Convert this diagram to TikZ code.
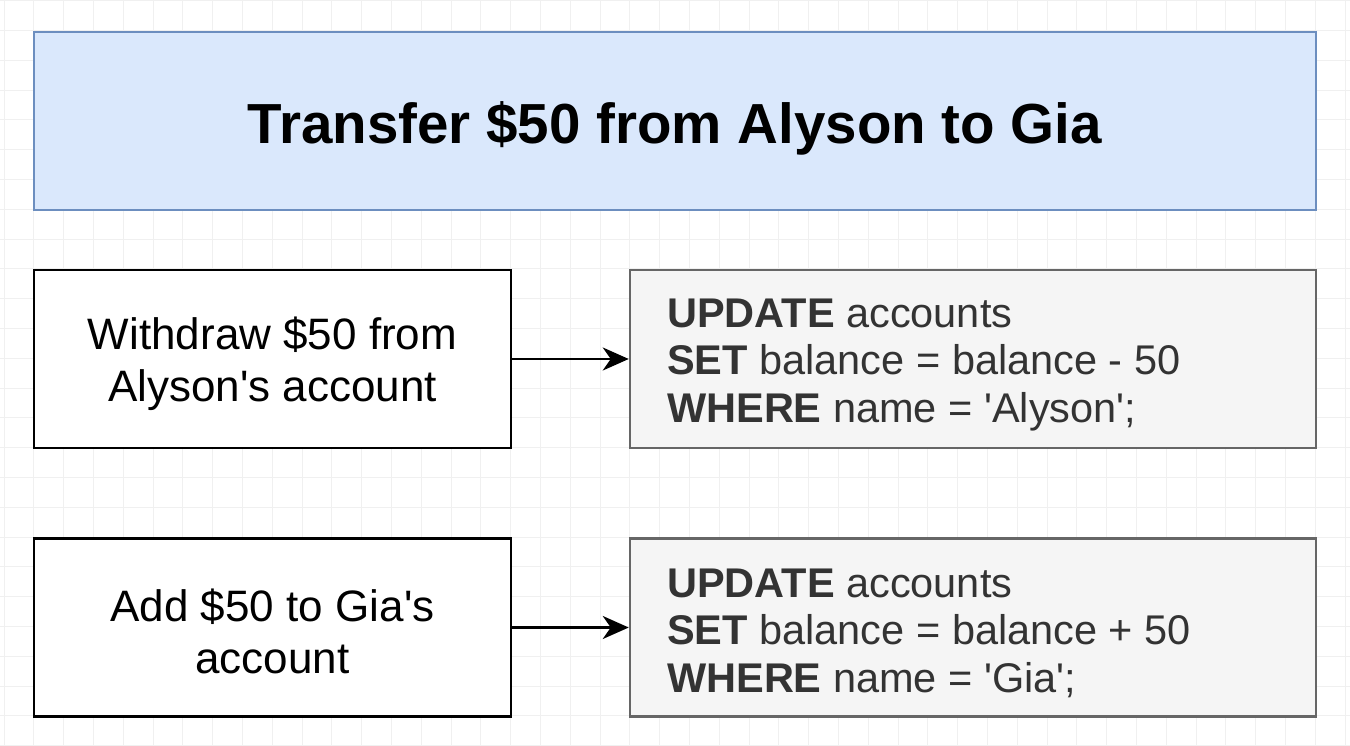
\documentclass[tikz,border=0pt]{standalone}
\usepackage{fontspec}
\setmainfont{Liberation Sans}[Ligatures=TeXOff]
\usetikzlibrary{arrows.meta}
\definecolor{titlefill}{HTML}{DAE8FC}
\definecolor{titledraw}{HTML}{6C8EBF}
\definecolor{sqlfill}{HTML}{F5F5F5}
\definecolor{sqldraw}{HTML}{666666}
\definecolor{sqltext}{HTML}{333333}
\definecolor{gridc}{HTML}{F0F0F0}
\tikzset{
  titlebox/.style={draw=titledraw,fill=titlefill,line width=2.5pt,minimum width=1282pt,minimum height=178pt,inner sep=0pt},
  titletxt/.style={inner sep=0pt,font=\fontsize{56.5}{66}\selectfont\bfseries},
  stepbox/.style={draw=black,fill=white,line width=2.5pt,minimum width=477pt,minimum height=178pt,inner sep=0pt},
  steptxt/.style={inner sep=0pt,align=center,font=\fontsize{44}{52}\selectfont},
  sqlbox/.style={draw=sqldraw,fill=sqlfill,line width=2.5pt,minimum width=686pt,minimum height=178pt,inner sep=0pt},
  sqltxt/.style={anchor=west,align=left,text=sqltext,inner sep=0pt,font=\fontsize{41.5}{47.5}\selectfont},
  conn/.style={line width=2.5pt,-{Stealth[length=26pt,width=23pt,inset=8pt]}}
}
\begin{document}
\begin{tikzpicture}[x=1pt,y=-1pt]
\useasboundingbox (0,0) rectangle (1350,746);
\fill[white] (0,0) rectangle (1350,746);
\foreach \i in {0,...,45} {
  \draw[gridc,line width=1pt] ({4+29.8*\i},0) -- ({4+29.8*\i},746);
}
\foreach \j in {0,...,25} {
  \draw[gridc,line width=1pt] (0,{0.7+29.8*\j}) -- (1350,{0.7+29.8*\j});
}
\node[titlebox] (title) at (675,121) {};
\node[titletxt] (tt) at (675,128) {Transfer \$50 from Alyson to Gia};
\node[stepbox] (w) at (272.5,359) {};
\node[steptxt] (wt) at (272.5,364) {Withdraw \$50 from\\Alyson's account};
\node[sqlbox] (s1) at (973,359) {};
\node[sqltxt] (t1) at (667,365) {\textbf{UPDATE} accounts\\\textbf{SET} balance = balance - 50\\\textbf{WHERE} name = 'Alyson';};
\node[stepbox] (a) at (272.5,627.5) {};
\node[steptxt] (at) at (272.5,631.5) {Add \$50 to Gia's\\account};
\node[sqlbox] (s2) at (973,627.5) {};
\node[sqltxt] (t2) at (667,633) {\textbf{UPDATE} accounts\\\textbf{SET} balance = balance + 50\\\textbf{WHERE} name = 'Gia';};
\draw[conn] (w.east) -- (s1.west);
\draw[conn] (a.east) -- (s2.west);
\end{tikzpicture}
\end{document}
